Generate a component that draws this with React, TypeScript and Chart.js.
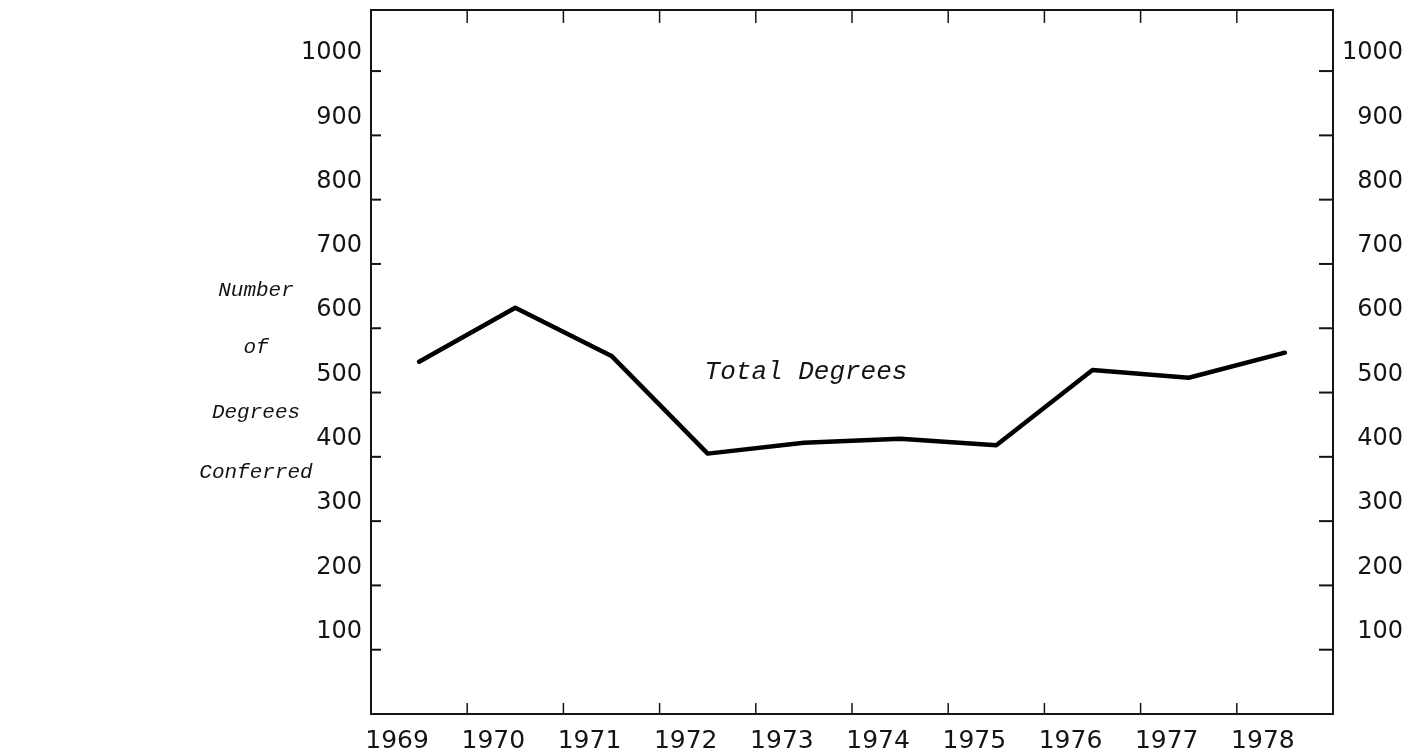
import React, { useEffect, useRef } from 'react';
import { Chart, registerables } from 'chart.js';

Chart.register(...registerables);

const years = ['1969', '1970', '1971', '1972', '1973', '1974', '1975', '1976', '1977', '1978'];
const totalDegrees = [548, 632, 557, 405, 422, 428, 418, 535, 523, 562];
const yTickValues = [100, 200, 300, 400, 500, 600, 700, 800, 900, 1000];
const yMin = 0;
const yMax = 1095;
const titleLines = ['Number', 'of', 'Degrees', 'Conferred'];
const seriesLabel = 'Total Degrees';

const INK = '#141414';
const TICK_FONT = { family: 'DejaVu Sans', size: 24 };

function line(ctx: CanvasRenderingContext2D, x1: number, y1: number, x2: number, y2: number) {
  ctx.beginPath();
  ctx.moveTo(x1, y1);
  ctx.lineTo(x2, y2);
  ctx.stroke();
}

const framePlugin = {
  id: 'frame',
  afterDraw(chart: any) {
    const { ctx, chartArea: a, scales } = chart;
    ctx.save();
    ctx.strokeStyle = INK;
    ctx.lineWidth = 2;
    ctx.strokeRect(a.left, a.top, a.right - a.left, a.bottom - a.top);
    const y = scales.y;
    y.ticks.forEach((t: any) => {
      const py = y.getPixelForValue(t.value);
      line(ctx, a.left, py, a.left + 10, py);
      line(ctx, a.right, py, a.right - 14, py);
    });
    const x = scales.x;
    ctx.lineWidth = 1.5;
    for (let i = 0; i < years.length - 1; i++) {
      const px = (x.getPixelForValue(i) + x.getPixelForValue(i + 1)) / 2;
      line(ctx, px, a.top, px, a.top + 13);
      line(ctx, px, a.bottom, px, a.bottom - 11);
    }
    ctx.fillStyle = INK;
    ctx.textAlign = 'center';
    ctx.textBaseline = 'middle';
    ctx.font = 'italic 21px "Liberation Mono"';
    const titleYs = [290, 347, 412, 472];
    titleLines.forEach((s, i) => ctx.fillText(s, 256, titleYs[i]));
    ctx.font = 'italic 26px "Liberation Mono"';
    ctx.fillText(seriesLabel, 806, 372);
    ctx.restore();
  },
};

function yAxis(position: 'left' | 'right', width: number) {
  return {
    position,
    min: yMin,
    max: yMax,
    afterBuildTicks: (s: any) => {
      s.ticks = yTickValues.map((v) => ({ value: v }));
    },
    afterFit: (s: any) => {
      s.width = width;
      s.paddingTop = 0;
      s.paddingBottom = 0;
    },
    grid: { display: false, drawTicks: false },
    border: { display: false },
    ticks: {
      color: INK,
      font: TICK_FONT,
      padding: 9,
      labelOffset: -18,
      crossAlign: position === 'right' ? 'far' : 'near',
      callback: (v: any) => String(v),
    },
  };
}

export default function App() {
  const ref = useRef<HTMLCanvasElement>(null);
  useEffect(() => {
    if (!ref.current) return;
    const chart = new Chart(ref.current, {
      type: 'line',
      data: {
        labels: years,
        datasets: [
          {
            label: seriesLabel,
            data: totalDegrees,
            borderColor: '#000',
            borderWidth: 4.5,
            pointRadius: 0,
            tension: 0,
            fill: false,
            borderJoinStyle: 'round',
            borderCapStyle: 'round',
          },
        ],
      },
      options: {
        animation: false,
        responsive: true,
        maintainAspectRatio: false,
        layout: { padding: { left: 0, right: 22, top: 10, bottom: 0 } },
        plugins: { legend: { display: false }, tooltip: { enabled: false } },
        scales: {
          x: {
            type: 'category',
            offset: true,
            afterFit: (s: any) => {
              s.height = 41;
              s.paddingLeft = 0;
              s.paddingRight = 0;
            },
            grid: { display: false, drawTicks: false },
            border: { display: false },
            ticks: {
              color: INK,
              font: { family: 'DejaVu Sans', size: 25 },
              padding: 12,
              labelOffset: -22,
              maxRotation: 0,
              autoSkip: false,
            },
          },
          y: yAxis('left', 371) as any,
          y2: yAxis('right', 70) as any,
        },
      },
      plugins: [framePlugin],
    });
    return () => chart.destroy();
  }, []);
  return (
    <div style={{ position: 'fixed', left: 0, top: 0, width: 1425, height: 755, background: '#fff' }}>
      <canvas ref={ref} />
    </div>
  );
}
